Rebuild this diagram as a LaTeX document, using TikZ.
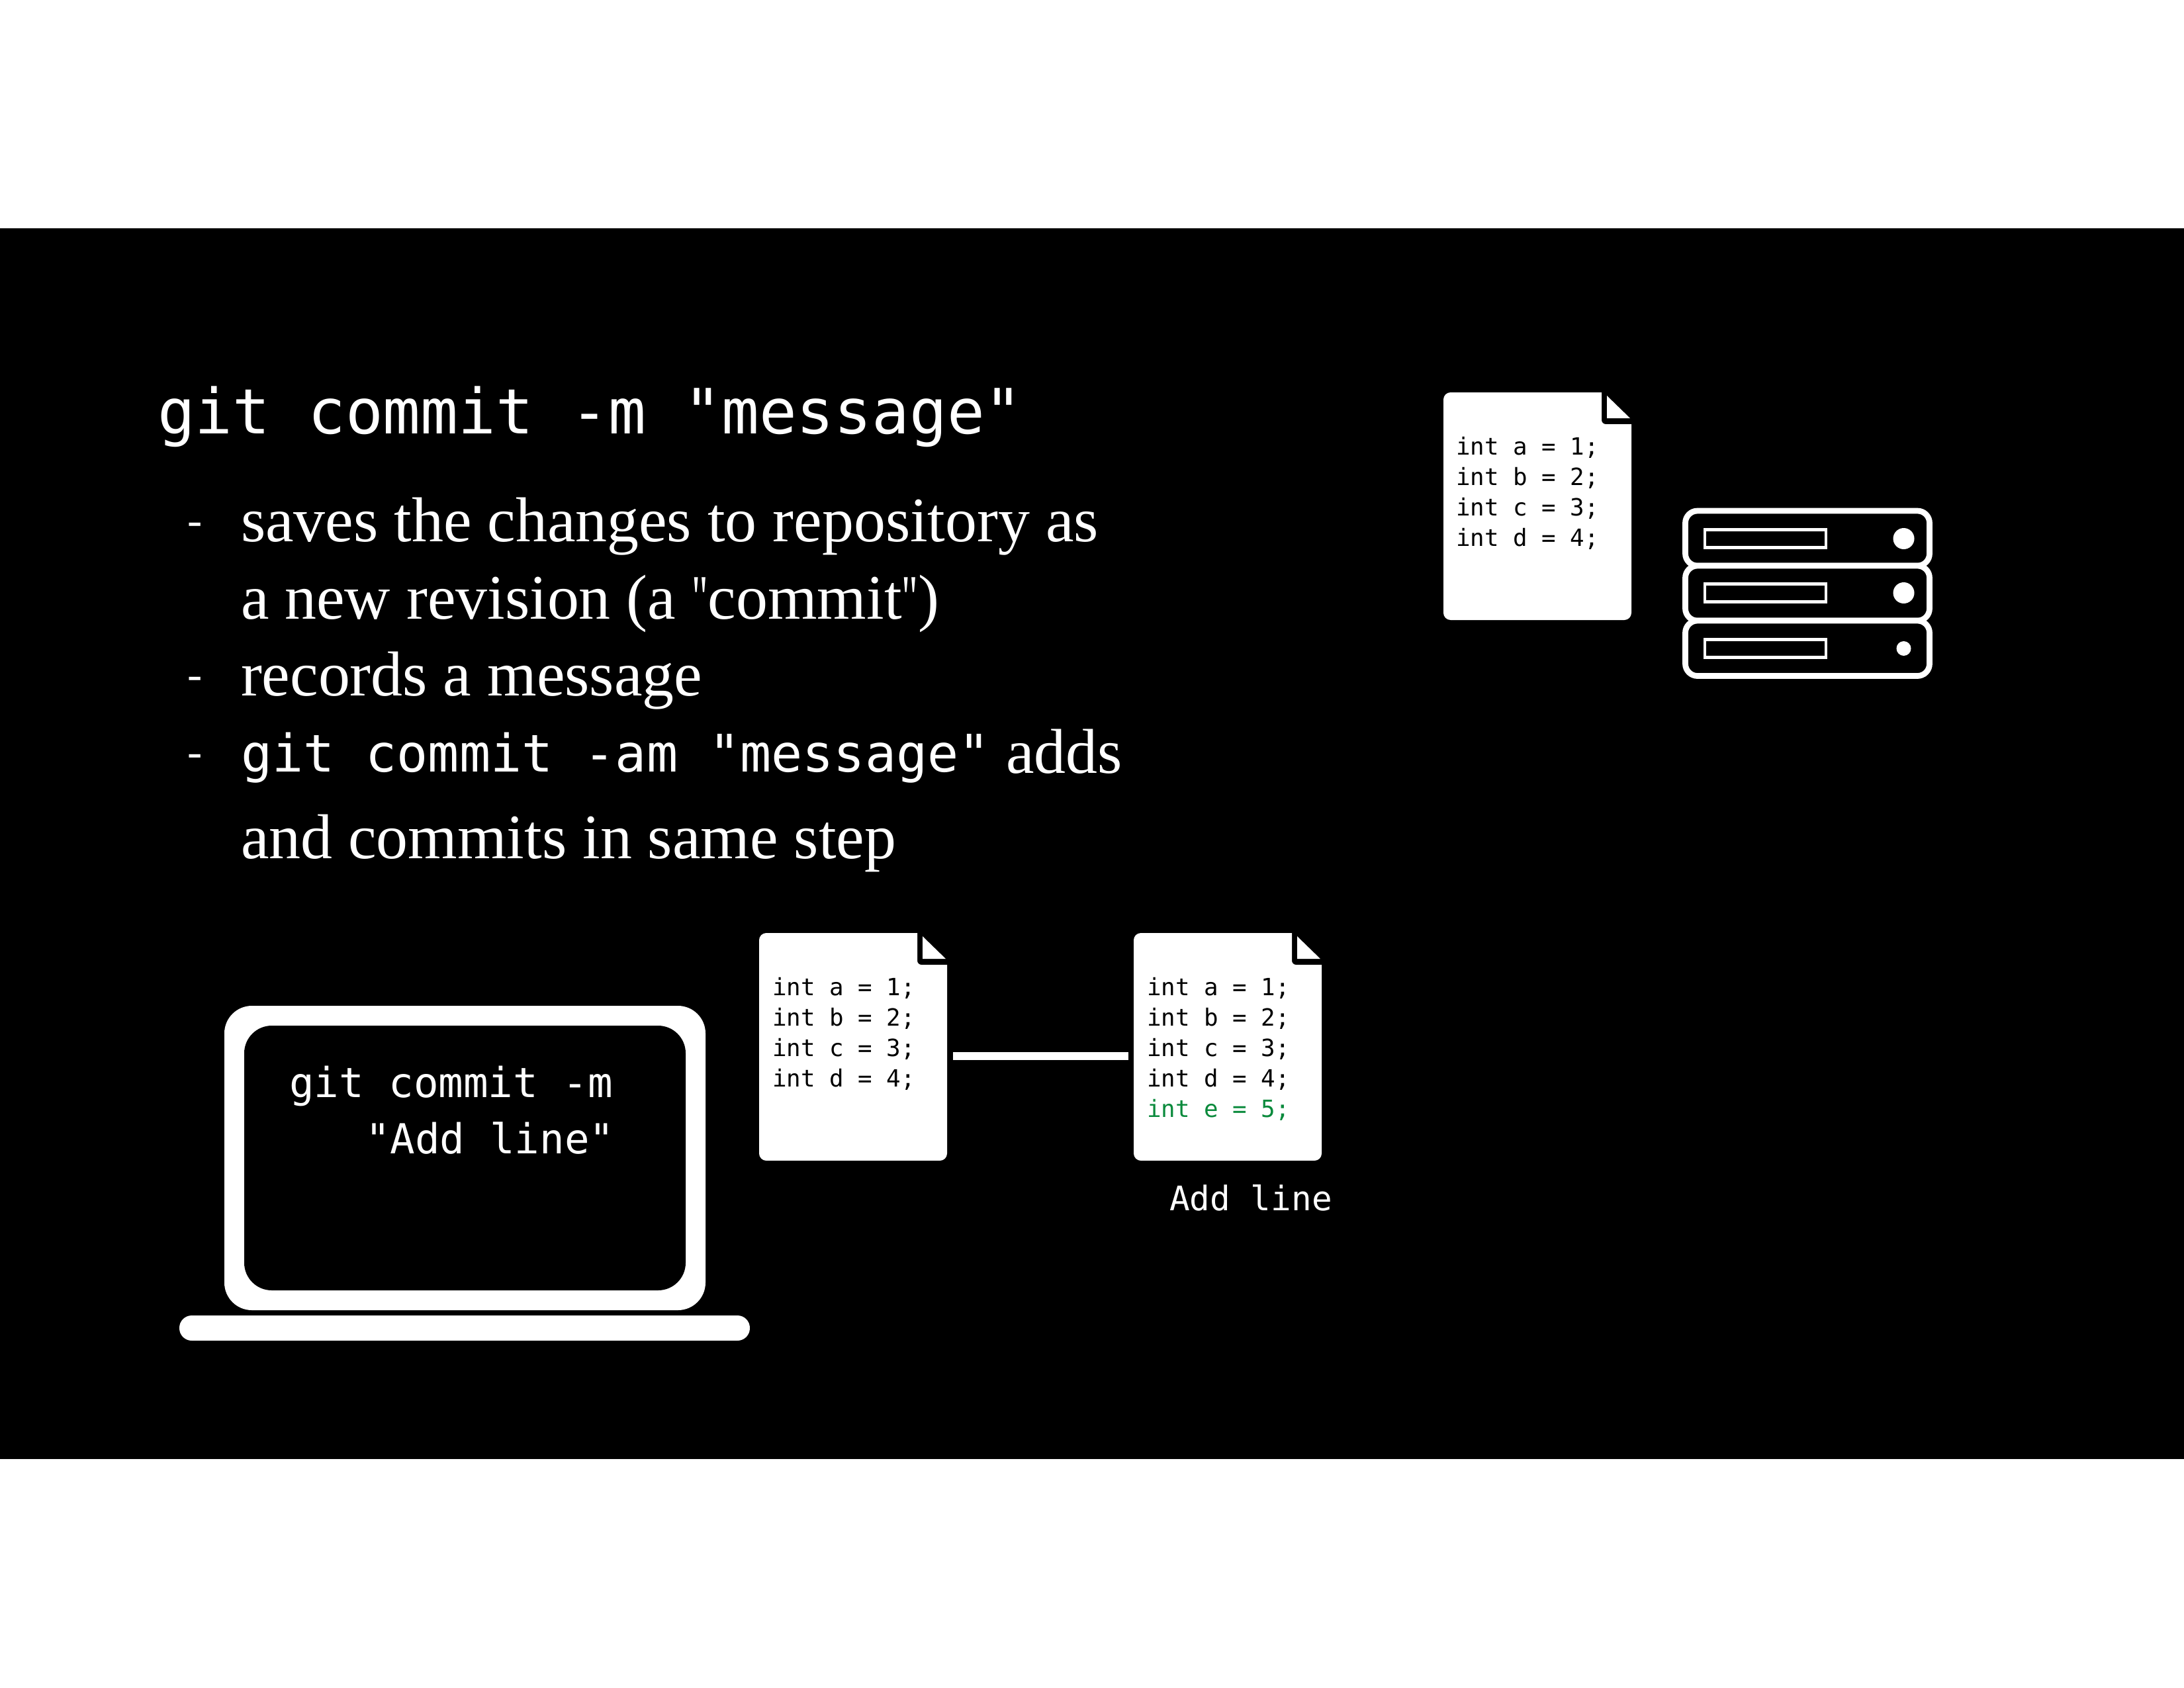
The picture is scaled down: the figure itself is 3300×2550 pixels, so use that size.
\documentclass[tikz,border=0pt]{standalone}
\usepackage{fontspec}
\newfontfamily\bodyf{Liberation Serif}
\newfontfamily\monof{DejaVu Sans Mono}
\definecolor{addgreen}{HTML}{0A8A3C}
\newcommand{\nq}{\scalebox{0.63}[1]{"}}
\newcommand{\docicon}[3]{%
  \begin{scope}[shift={(#2,#3)}]
    \fill[white] [rounded corners=2.6pt] (0,344) -- (0,0) [sharp corners] -- (239,0)
      [rounded corners=1.5pt] -- (239,48) [sharp corners] -- (284,48)
      [rounded corners=2.6pt] -- (284,344) -- cycle;
    \fill[white] (247,5) -- (282,39) -- (247,39) -- cycle;
    \node[docframe] (#1) at (142,172) {};
  \end{scope}}
\newcommand{\docline}[4][black]{\node[codetxt,text=#1] (#2) at #3 {#4};}
\newcommand{\serverrow}[4]{%
  \draw[serverframe] (2546.5,#1) rectangle (2915.5,#2);
  \draw[serverslot] (2576,#3+2.5) rectangle (2759,#3+29.5);
  \fill[white] (2876.5,#3+16) circle (#4);}
\tikzset{
  x=0.24pt,y=-0.24pt,
  lbl/.style={inner sep=0pt,outer sep=0pt,anchor=base west,text=white},
  codetxt/.style={inner sep=0pt,outer sep=0pt,anchor=base west,font=\monof\fontsize{8.6pt}{11pt}\selectfont},
  termtxt/.style={lbl,font=\monof\fontsize{15pt}{18pt}\selectfont},
  titletxt/.style={lbl,font=\monof\fontsize{22.65pt}{27pt}\selectfont},
  inlinetxt/.style={lbl,font=\monof\fontsize{18.8pt}{22pt}\selectfont},
  captxt/.style={lbl,font=\monof\fontsize{12.25pt}{15pt}\selectfont},
  bodytxt/.style={lbl,font=\bodyf\fontsize{23pt}{27pt}\selectfont},
  dashtxt/.style={lbl,font=\bodyf\fontsize{16pt}{19pt}\selectfont},
  docframe/.style={inner sep=0pt,outer sep=0pt,minimum width=68.16pt,minimum height=82.56pt},
  serverframe/.style={draw=white,fill=black,line width=2.1pt,rounded corners=4.4pt},
  serverslot/.style={draw=white,line width=1.15pt},
  link/.style={draw=white,line width=2.8pt}
}
\begin{document}
\begin{tikzpicture}
\useasboundingbox (0,0) rectangle (3300,2550);
\fill[white] (0,0) rectangle (3300,2550);
\fill[black] (0,345) rectangle (3300,2205);

% title and bullets
\node[titletxt] (title) at (238,655) {git commit -m "message"};
\node[dashtxt] (d1) at (283,808) {-};
\node[bodytxt] (b1) at (364,818) {saves the changes to repository as};
\node[bodytxt] (b2) at (364,935) {a new revision (a \nq commit\nq)};
\node[dashtxt] (d2) at (283,1041) {-};
\node[bodytxt] (b3) at (364,1051) {records a message};
\node[dashtxt] (d3) at (283,1158) {-};
\node[inlinetxt] (b4) at (364,1166) {git commit -am "message"};
\node[bodytxt] (b4b) at (1520,1168) {adds};
\node[bodytxt] (b5) at (364,1297) {and commits in same step};

% repository document
\docicon{docA}{2181}{593}
\docline{a1}{(2200,687)}{int a = 1;}
\docline{a2}{(2200,733)}{int b = 2;}
\docline{a3}{(2200,779)}{int c = 3;}
\docline{a4}{(2200,825)}{int d = 4;}

% server
\serverrow{772}{855}{798}{16}
\serverrow{855}{938}{880}{16}
\serverrow{938}{1021.5}{964}{11}

% laptop
\fill[white,rounded corners=10pt] (339,1520) rectangle (1066,1980);
\fill[black,rounded corners=10pt] (369,1550) rectangle (1036,1950);
\fill[white,rounded corners=4.5pt] (271,1988) rectangle (1133,2026);
\node[termtxt] (t1) at (437,1658) {git commit -m};
\node[termtxt] (t2) at (552,1743) {"Add line"};

% revisions
\docicon{docB}{1147}{1410}
\docline{p1}{(1167,1504)}{int a = 1;}
\docline{p2}{(1167,1550)}{int b = 2;}
\docline{p3}{(1167,1596)}{int c = 3;}
\docline{p4}{(1167,1642)}{int d = 4;}

\docicon{docC}{1713}{1410}
\docline{q1}{(1733,1504)}{int a = 1;}
\docline{q2}{(1733,1550)}{int b = 2;}
\docline{q3}{(1733,1596)}{int c = 3;}
\docline{q4}{(1733,1642)}{int d = 4;}
\docline[addgreen]{q5}{(1733,1688)}{int e = 5;}

\draw[link] ([shift={(9,14)}]docB.east) -- ([shift={(-8,14)}]docC.west);
\node[captxt] (cap) at (1767,1829) {Add line};
\end{tikzpicture}
\end{document}
